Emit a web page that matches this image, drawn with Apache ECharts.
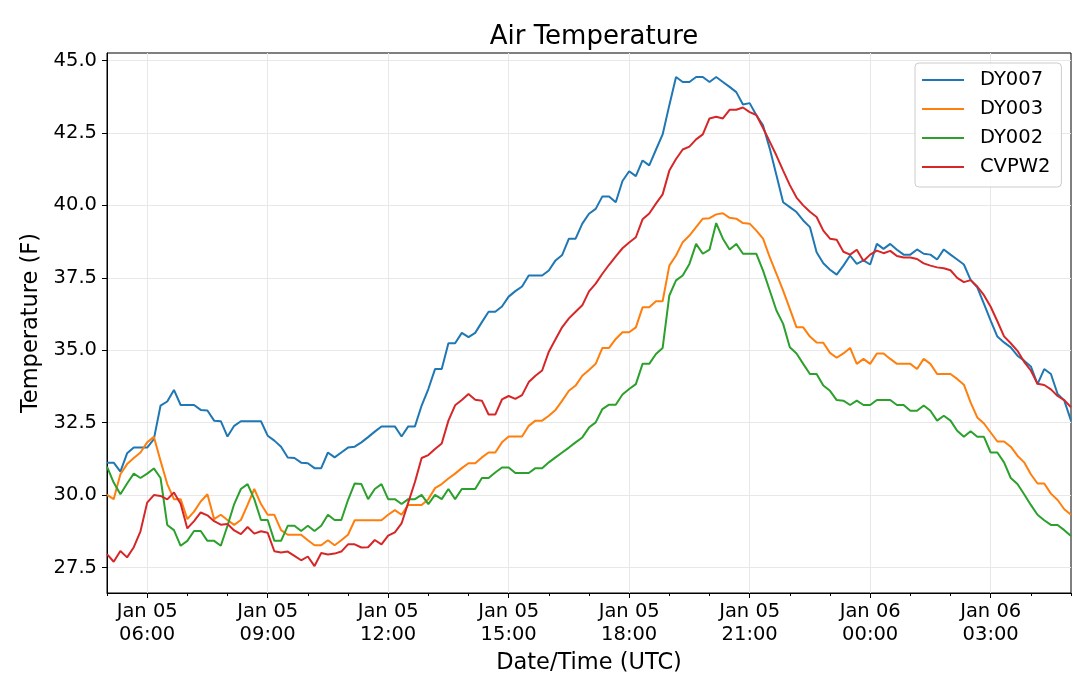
<!DOCTYPE html>
<html><head><meta charset="utf-8">
<script src="https://cdn.jsdelivr.net/npm/echarts/dist/echarts.min.js"></script>
<style>html,body{margin:0;padding:0;background:#fff}#c{width:1080px;height:676px}</style>
</head><body><div id="c"></div>
<script>
// Sampling: Jan 05 05:00 UTC onward, every 10 minutes (x in hours since Jan 05 00:00)
const startHour = 5;
const stepHours = 1 / 6;
const seriesNames = ['DY007', 'DY003', 'DY002', 'CVPW2'];
const seriesColors = ['#1f77b4', '#ff7f0e', '#2ca02c', '#d62728'];

const dy007 = [31.12,31.12,30.81,31.44,31.64,31.64,31.64,31.93,33.09,33.23,33.63,33.11,33.11,33.11,32.94,32.92,32.57,32.55,32.02,32.39,32.55,32.55,32.55,32.55,32.05,31.88,31.67,31.30,31.28,31.12,31.10,30.93,30.93,31.47,31.30,31.47,31.64,31.67,
31.82,32.00,32.19,32.37,32.37,32.37,32.02,32.37,32.37,33.09,33.66,34.35,34.35,35.24,35.24,35.60,35.45,35.60,35.97,36.33,36.33,36.51,36.85,37.04,37.20,37.58,37.58,37.58,37.75,38.10,38.29,38.85,38.85,39.37,39.71,39.88,
40.31,40.31,40.11,40.84,41.18,41.01,41.55,41.38,41.92,42.45,43.46,44.43,44.26,44.26,44.43,44.43,44.26,44.43,44.26,44.09,43.91,43.48,43.53,43.11,42.76,41.96,41.04,40.11,39.94,39.77,39.48,39.25,38.38,38.00,37.78,37.61,
37.92,38.27,37.98,38.10,37.96,38.67,38.50,38.67,38.47,38.30,38.30,38.48,38.33,38.30,38.13,38.48,38.30,38.13,37.96,37.43,37.17,36.60,36.02,35.47,35.27,35.10,34.81,34.64,34.44,33.83,34.35,34.18,33.49,33.26,32.57];

const dy003 = [30.01,29.86,30.72,31.07,31.28,31.47,31.82,32.01,31.18,30.38,29.86,29.86,29.17,29.43,29.78,30.03,29.17,29.32,29.14,28.97,29.14,29.66,30.21,29.69,29.32,29.32,28.79,28.63,28.63,28.63,28.44,28.27,28.27,28.44,28.27,28.44,28.63,29.13,
29.13,29.13,29.13,29.13,29.32,29.48,29.32,29.66,29.66,29.66,29.86,30.24,30.38,30.57,30.74,30.93,31.10,31.10,31.30,31.47,31.47,31.82,32.02,32.02,32.02,32.39,32.57,32.57,32.74,32.94,33.26,33.60,33.78,34.12,34.32,34.53,
35.08,35.08,35.39,35.62,35.62,35.79,36.48,36.48,36.69,36.69,37.92,38.27,38.73,38.96,39.25,39.54,39.56,39.69,39.73,39.57,39.54,39.39,39.37,39.13,38.85,38.21,37.64,37.06,36.43,35.79,35.79,35.47,35.27,35.26,34.91,34.74,
34.89,35.08,34.53,34.70,34.53,34.89,34.89,34.70,34.53,34.53,34.53,34.35,34.70,34.53,34.18,34.18,34.18,34.01,33.81,33.20,32.68,32.47,32.16,31.85,31.85,31.67,31.36,31.13,30.72,30.40,30.40,30.05,29.83,29.51,29.32];

const dy002 = [30.98,30.43,30.03,30.40,30.74,30.59,30.74,30.92,30.59,28.97,28.79,28.25,28.42,28.76,28.76,28.42,28.42,28.25,28.94,29.69,30.21,30.38,29.86,29.14,29.14,28.42,28.42,28.94,28.94,28.76,28.94,28.76,28.94,29.32,29.14,29.14,29.83,30.40,
30.38,29.86,30.21,30.38,29.86,29.86,29.69,29.86,29.86,30.01,29.69,30.01,29.86,30.21,29.86,30.21,30.21,30.21,30.59,30.59,30.78,30.95,30.95,30.76,30.76,30.76,30.93,30.93,31.13,31.30,31.47,31.64,31.82,31.99,32.33,32.51,
32.97,33.12,33.12,33.47,33.66,33.83,34.53,34.53,34.87,35.08,36.89,37.41,37.58,37.98,38.67,38.33,38.47,39.39,38.85,38.48,38.67,38.33,38.33,38.33,37.75,37.06,36.37,35.91,35.10,34.89,34.53,34.18,34.18,33.78,33.60,33.28,
33.26,33.11,33.26,33.11,33.11,33.28,33.28,33.28,33.11,33.11,32.91,32.91,33.09,32.91,32.57,32.74,32.57,32.22,32.01,32.20,32.01,32.01,31.47,31.47,31.13,30.59,30.38,30.03,29.66,29.32,29.13,28.97,28.97,28.79,28.59];

const cvpw2 = [27.96,27.70,28.07,27.85,28.20,28.75,29.74,30.00,29.97,29.85,30.09,29.70,28.85,29.10,29.40,29.30,29.10,28.98,29.00,28.78,28.65,28.90,28.67,28.75,28.70,28.06,28.02,28.05,27.90,27.75,27.88,27.55,28.00,27.95,27.98,28.05,28.30,28.30,
28.19,28.20,28.45,28.30,28.60,28.71,29.02,29.74,30.45,31.28,31.38,31.59,31.78,32.57,33.10,33.28,33.49,33.29,33.26,32.78,32.78,33.30,33.42,33.32,33.45,33.90,34.12,34.30,34.95,35.38,35.80,36.10,36.33,36.55,37.03,37.30,
37.64,37.95,38.24,38.52,38.72,38.90,39.52,39.72,40.06,40.38,41.20,41.60,41.93,42.03,42.28,42.45,43.00,43.06,43.00,43.30,43.30,43.38,43.22,43.12,42.67,42.20,41.72,41.20,40.70,40.27,40.00,39.78,39.60,39.13,38.85,38.81,
38.40,38.30,38.47,38.08,38.30,38.44,38.35,38.43,38.25,38.20,38.20,38.15,38.00,37.92,37.86,37.83,37.76,37.50,37.35,37.42,37.20,36.90,36.50,36.00,35.48,35.24,34.98,34.60,34.30,33.84,33.80,33.65,33.42,33.28,33.03];

const xTickHours = [6, 9, 12, 15, 18, 21, 24, 27];
const xTickLabels = ['Jan 05\n06:00', 'Jan 05\n09:00', 'Jan 05\n12:00', 'Jan 05\n15:00', 'Jan 05\n18:00', 'Jan 05\n21:00', 'Jan 06\n00:00', 'Jan 06\n03:00'];
const xMinorHours = [5, 7, 8, 10, 11, 13, 14, 16, 17, 19, 20, 22, 23, 25, 26, 28, 29];
const yTicks = [27.5, 30, 32.5, 35, 37.5, 40, 42.5, 45];

const FONT = 'DejaVu Sans';
const allValues = [dy007, dy003, dy002, cvpw2];

const chart = echarts.init(document.getElementById('c'), null, {renderer: 'canvas'});
const series = allValues.map((vals, k) => ({
  name: seriesNames[k],
  type: 'line',
  xAxisIndex: 0,
  yAxisIndex: 0,
  data: vals.map((v, i) => [startHour + i * stepHours, v]),
  showSymbol: false,
  symbol: 'none',
  lineStyle: {width: 2, color: seriesColors[k]},
  itemStyle: {color: seriesColors[k]},
  emphasis: {disabled: true}
}));

chart.setOption({
  animation: false,
  backgroundColor: '#ffffff',
  title: {
    text: 'Air Temperature',
    left: 589, top: 19, textAlign: 'center',
    textStyle: {fontFamily: FONT, fontSize: 26, fontWeight: 'normal', color: '#000'}
  },
  legend: {
    orient: 'vertical',
    left: 915, top: 63,
    padding: [7, 11, 10, 7],
    itemGap: 9,
    itemWidth: 42, itemHeight: 2,
    icon: 'rect',
    backgroundColor: 'rgba(255,255,255,0.85)',
    borderColor: '#cccccc', borderWidth: 1, borderRadius: 4,
    textStyle: {fontFamily: FONT, fontSize: 19.5, color: '#000', lineHeight: 20, padding: [0, 0, 0, 11]},
    data: seriesNames
  },
  grid: {
    left: 107, right: 9, top: 53, bottom: 83,
    outerBoundsMode: 'none', containLabel: false,
    show: true, borderColor: '#000', borderWidth: 1, backgroundColor: 'transparent'
  },
  xAxis: [{
    type: 'value', min: 5, max: 29,
    name: 'Date/Time (UTC)', nameLocation: 'middle', nameGap: 59,
    nameTextStyle: {fontFamily: FONT, fontSize: 22.5, color: '#000'},
    axisLine: {show: true, onZero: false, lineStyle: {color: '#000', width: 1}},
    axisTick: {show: true, inside: false, length: 5, customValues: xTickHours, lineStyle: {color: '#000', width: 1}},
    axisLabel: {
      customValues: xTickHours,
      margin: 7,
      fontFamily: FONT, fontSize: 19.5, color: '#000', lineHeight: 23,
      formatter: v => { const i = xTickHours.indexOf(Math.round(v)); return i >= 0 ? xTickLabels[i] : ''; }
    },
    splitLine: {show: true, lineStyle: {color: '#e8e8e8', width: 1}}
  }, {
    type: 'value', min: 5, max: 29, position: 'bottom',
    axisLine: {show: false},
    axisTick: {show: true, length: 3, customValues: xMinorHours, lineStyle: {color: '#000', width: 1}},
    axisLabel: {show: false, customValues: xMinorHours},
    splitLine: {show: false}
  }],
  yAxis: {
    type: 'value', min: 26.62, max: 45.26,
    name: 'Temperature (F)', nameLocation: 'middle', nameGap: 57,
    nameTextStyle: {fontFamily: FONT, fontSize: 22.5, color: '#000'},
    axisLine: {show: true, lineStyle: {color: '#000', width: 1}},
    axisTick: {show: true, length: 5, customValues: yTicks, lineStyle: {color: '#000', width: 1}},
    axisLabel: {
      customValues: yTicks, margin: 10,
      fontFamily: FONT, fontSize: 19.5, color: '#000',
      formatter: v => v.toFixed(1)
    },
    splitLine: {show: true, lineStyle: {color: '#e8e8e8', width: 1}}
  },
  series: series
});
</script>
</body></html>
